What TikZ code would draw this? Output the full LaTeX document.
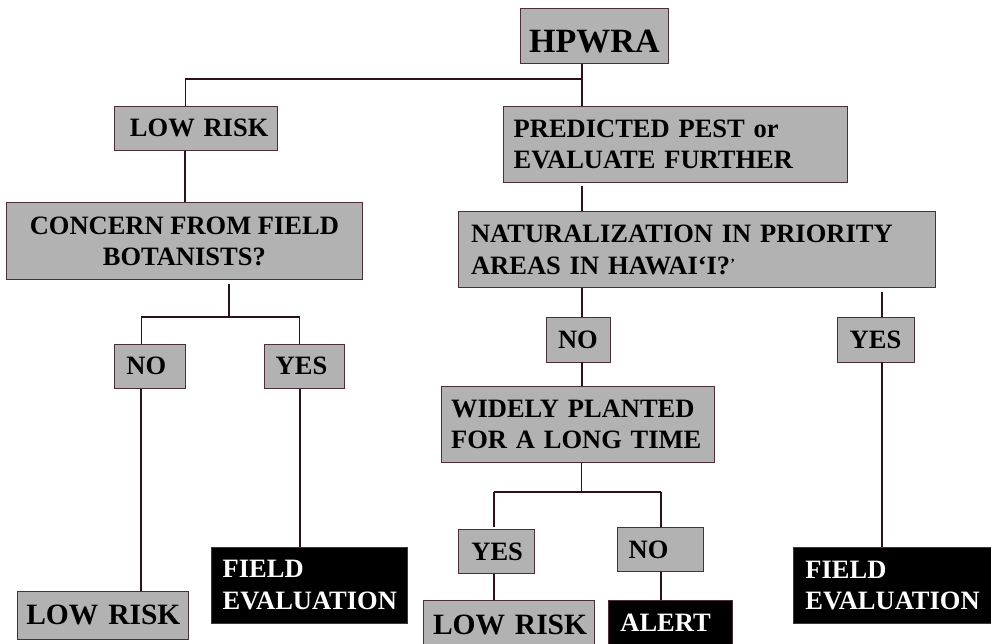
\documentclass[tikz,border=0pt]{standalone}
\usepackage{fontspec}
\setmainfont{Liberation Serif}
\usepackage{xcolor}
\definecolor{boxgray}{RGB}{178,178,178}
\definecolor{edgecol}{RGB}{75,45,60}
\definecolor{linecol}{RGB}{45,15,30}

\begin{document}
\begin{tikzpicture}[x=1pt,y=-1pt]
		\tikzstyle{every node}+=[inner ysep=0pt, anchor=north west, font=\bfseries\fontsize{26.5}{31.7}\selectfont]
		\tikzstyle{gbox}=[draw=edgecol, fill=boxgray, line width=0.8pt]
		\tikzstyle{bbox}=[draw=edgecol, fill=black, text=white, line width=0.8pt]
		\tikzstyle{link}=[draw=linecol, line width=2pt]
		\tikzstyle{thinlink}=[draw=linecol, line width=1pt]
		\useasboundingbox (0,0) rectangle (991,644);
		\node[gbox, minimum width=148pt, minimum height=54.6pt, inner xsep=0pt, text height=32.4pt, text depth=0pt, font=\bfseries\fontsize{34}{40}\selectfont] (hpwra) at (520,8.2) {HPWRA};
		\node[gbox, minimum width=162.5pt, minimum height=44pt, text width=144.7pt, inner xsep=8.9pt, align=right] (riskA) at (114.4,106) {LOW~RISK};
		\node[gbox, minimum width=344pt, minimum height=76pt, text width=322.4pt, inner xsep=10.8pt, align=left] (predpest) at (502.5,106) {PREDICTED~PEST~or\\EVALUATE~FURTHER};
		\node[gbox, minimum width=355.3pt, minimum height=76.8pt, inner xsep=0pt, align=center] (concern) at (6.3,202.5) {CONCERN~FROM~FIELD\\BOTANISTS?};
		\node[gbox, minimum width=476.7pt, minimum height=76pt, text width=451.9pt, inner xsep=12.4pt, align=left] (natural) at (458.3,211.5) {NATURALIZATION~IN~PRIORITY\\AREAS~IN~HAWAI‘I?{\fontsize{14}{14}\selectfont\raisebox{6pt}{’}}};
		\node[gbox, minimum width=70.8pt, minimum height=44pt, text width=47.6pt, inner xsep=11.6pt, align=left] (noA) at (114.4,343.7) {NO};
		\node[gbox, minimum width=79.7pt, minimum height=44pt, text width=57.5pt, inner xsep=11.1pt, align=left] (yesA) at (264.2,343.7) {YES};
		\node[gbox, minimum width=171.4pt, minimum height=47.2pt, text width=154.6pt, inner xsep=8.4pt, align=right, font=\bfseries\fontsize{29.5}{34}\selectfont] (riskB) at (17,591.4) {LOW~RISK};
		\node[bbox, minimum width=196pt, minimum height=76.6pt, text width=174pt, inner xsep=11pt, align=left] (fieldA) at (211.3,546.6) {FIELD\\EVALUATION};
		\node[gbox, minimum width=63.7pt, minimum height=44.4pt, text width=40.9pt, inner xsep=11.4pt, align=left] (nomid) at (546.3,317.3) {NO};
		\node[gbox, minimum width=77pt, minimum height=44.4pt, text width=53pt, inner xsep=12pt, align=left] (yesR) at (837.3,317.3) {YES};
		\node[gbox, minimum width=273.7pt, minimum height=76pt, text width=253.5pt, inner xsep=10.1pt, align=left] (widely) at (440.6,386) {WIDELY~PLANTED\\FOR~A~LONG~TIME};
		\node[gbox, minimum width=76pt, minimum height=44pt, text width=50.6pt, inner xsep=12.7pt, align=left] (yesB) at (458.3,529.4) {YES};
		\node[gbox, minimum width=86.3pt, minimum height=44.3pt, text width=63.7pt, inner xsep=11.3pt, align=left] (noB) at (617,527) {NO};
		\node[gbox, minimum width=171.3pt, minimum height=50pt, text width=152.1pt, inner xsep=9.6pt, align=right, font=\bfseries\fontsize{29.5}{34}\selectfont] (riskC) at (423,599.6) {LOW~RISK};
		\node[bbox, minimum width=124pt, minimum height=46pt, text width=100.6pt, inner xsep=11.7pt, align=left] (alert) at (608.3,599.7) {ALERT};
		\node[bbox, minimum width=200pt, minimum height=76.4pt, text width=176.6pt, inner xsep=11.7pt, align=left] (fieldB) at (793.3,546.8) {FIELD\\EVALUATION};
		\coordinate (forkA) at (581.5,79);
		\coordinate (forkAL) at (185,79);
		\coordinate (forkB) at (228.8,317);
		\coordinate (forkBL) at (141,317);
		\coordinate (forkBR) at (299.6,317);
		\coordinate (forkC) at (581.5,491.6);
		\coordinate (forkCL) at (493.7,491.6);
		\coordinate (forkCR) at (661.2,491.6);
		\coordinate (colR) at (881.8,300);
		\draw [link] (hpwra.south -| forkA) -- (predpest.north -| forkA);
		\draw [link] (forkA) -- (forkAL);
		\draw [thinlink] (forkAL) -- (riskA.north -| forkAL);
		\draw [link] (riskA.south -| forkAL) -- (concern.north -| forkAL);
		\draw [link, shorten <=3.5pt] (predpest.south -| forkA) -- (natural.north -| forkA);
		\draw [link, shorten <=3.5pt] (concern.south -| forkB) -- (forkB);
		\draw [link] (forkBL) -- (forkBR);
		\draw [thinlink] (forkBL) -- (noA.north -| forkBL);
		\draw [thinlink] (forkBR) -- (yesA.north -| forkBR);
		\draw [link] (noA.south -| forkBL) -- (riskB.north -| forkBL);
		\draw [link] (yesA.south -| forkBR) -- (fieldA.north -| forkBR);
		\draw [link] (natural.south -| forkA) -- (nomid.north -| forkA);
		\draw [link, shorten <=4pt] (natural.south -| colR) -- (yesR.north -| colR);
		\draw [link] (yesR.south -| colR) -- (fieldB.north -| colR);
		\draw [link] (nomid.south -| forkA) -- (widely.north -| forkA);
		\draw [thinlink] (widely.south -| forkC) -- (forkC);
		\draw [link] (forkCL) -- (forkCR);
		\draw [link, shorten >=2.5pt] (forkCL) -- (yesB.north -| forkCL);
		\draw [link] (forkCR) -- (noB.north -| forkCR);
		\draw [link] (yesB.south -| forkCL) -- (riskC.north -| forkCL);
		\draw [link] (noB.south -| forkCR) -- (alert.north -| forkCR);
\end{tikzpicture}
\end{document}
